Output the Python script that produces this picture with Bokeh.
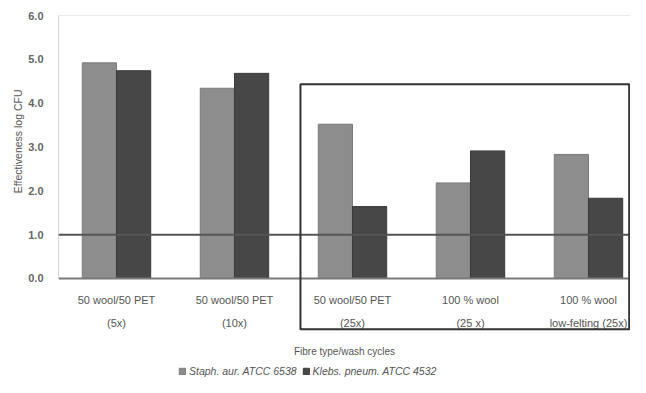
from bokeh.plotting import figure
from bokeh.models import (ColumnDataSource, Range1d, FixedTicker, LinearAxis, Span,
                          BoxAnnotation, Legend, LegendItem, Title)
from bokeh.transform import dodge
from bokeh.embed import file_html
from bokeh.resources import INLINE

# ---- data ----
line1_labels = ["50 wool/50 PET", "50 wool/50 PET", "50 wool/50 PET", "100 % wool", "100 % wool"]
line2_labels = ["(5x)", "(10x)", "(25x)", "(25 x)", "low-felting (25x)"]
staph = [4.92, 4.34, 3.52, 2.18, 2.83]
klebs = [4.74, 4.68, 1.64, 2.91, 1.83]
series_names = ["Staph. aur. ATCC 6538", "Klebs. pneum. ATCC 4532"]
y_ticks = [0, 1, 2, 3, 4, 5, 6]
threshold = 1.0

idx = list(range(len(staph)))
src = ColumnDataSource(dict(x=idx, staph=staph, klebs=klebs))

FONT = "Liberation Sans"
LIGHT = "#8d8d8d"
DARK = "#474747"
TXT = "#555555"

p = figure(width=630, height=377, output_backend="svg", toolbar_location=None,
           x_range=Range1d(-0.4915, 4.356), y_range=Range1d(-2.26, 6),
           min_border_left=58, min_border_top=15, min_border_right=0, min_border_bottom=0,
           x_axis_location=None)
p.xgrid.visible = False
p.ygrid.visible = False
p.outline_line_color = None
p.background_fill_color = "white"

r1 = p.vbar(x=dodge("x", -0.145, range=p.x_range), top="staph", width=0.29, source=src,
            fill_color=LIGHT, line_color="#7a7a7a", line_width=1)
r2 = p.vbar(x=dodge("x", 0.145, range=p.x_range), top="klebs", width=0.29, source=src,
            fill_color=DARK, line_color="#3a3a3a", line_width=1)

# top border of the plotting area
p.add_layout(Span(location=y_ticks[-1], dimension="width", line_color="#d6d6d6", line_width=1))
# reference line
p.add_layout(Span(location=threshold, dimension="width", line_color="#555555", line_width=2))
# highlight box
p.add_layout(BoxAnnotation(left=1.559, right=4.345, bottom=-1.16, top=4.43,
                           fill_alpha=0, line_color="#333333", line_alpha=1, line_width=2))

# y axis
ya = p.yaxis[0]
ya.ticker = FixedTicker(ticks=y_ticks)
ya.bounds = (y_ticks[0], y_ticks[-1])
ya.major_label_overrides = {t: f"{t:.1f}" for t in y_ticks}
ya.axis_line_color = "#d6d6d6"
ya.major_tick_line_color = None
ya.minor_tick_line_color = None
ya.major_label_text_font = FONT
ya.major_label_text_font_size = "11px"
ya.major_label_text_font_style = "bold"
ya.major_label_text_color = "#666666"
ya.major_label_standoff = 9

p.add_layout(Title(text="Effectiveness log CFU", align="right", offset=74,
                   text_font=FONT, text_font_size="10.5px", text_font_style="normal",
                   text_color=TXT, standoff=4), "left")

# x axes (two label lines), pinned at y = 0
ax1 = LinearAxis(ticker=FixedTicker(ticks=idx), fixed_location=0,
                 major_label_overrides={i: s for i, s in zip(idx, line1_labels)})
ax1.axis_line_color = "#7a7a7a"
ax1.axis_line_width = 2
ax1.major_tick_line_color = None
ax1.minor_tick_line_color = None
ax1.major_label_text_font = FONT
ax1.major_label_text_font_size = "11px"
ax1.major_label_text_color = TXT
ax1.major_label_standoff = 10
p.add_layout(ax1, "below")

ax2 = LinearAxis(ticker=FixedTicker(ticks=idx), fixed_location=0,
                 major_label_overrides={i: s for i, s in zip(idx, line2_labels)})
ax2.axis_line_color = None
ax2.major_tick_line_color = None
ax2.minor_tick_line_color = None
ax2.major_label_text_font = FONT
ax2.major_label_text_font_size = "11px"
ax2.major_label_text_color = TXT
ax2.major_label_standoff = 33
ax2.axis_label = "Fibre type/wash cycles"
ax2.axis_label_text_font = FONT
ax2.axis_label_text_font_size = "10px"
ax2.axis_label_text_font_style = "normal"
ax2.axis_label_text_color = TXT
ax2.axis_label_standoff = 13
p.add_layout(ax2, "below")

legend = Legend(items=[LegendItem(label=series_names[0], renderers=[r1]),
                       LegendItem(label=series_names[1], renderers=[r2])],
                orientation="horizontal", location=(120, 0),
                label_text_font=FONT, label_text_font_size="10.5px",
                label_text_font_style="italic", label_text_color=TXT,
                glyph_width=8, glyph_height=8, label_standoff=3, spacing=5,
                padding=0, margin=0, border_line_color=None, background_fill_alpha=0)
p.add_layout(legend, "center")

open("out.html", "w").write(file_html(p, INLINE))
